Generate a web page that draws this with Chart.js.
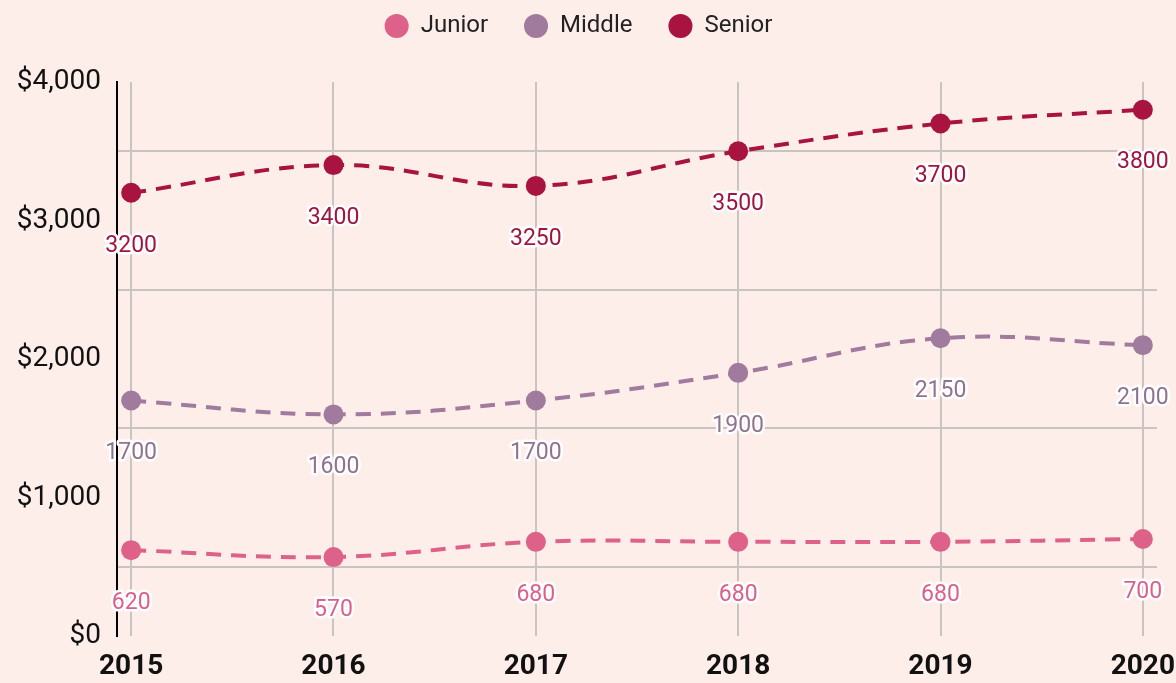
<!DOCTYPE html>
<html>
<head>
<meta charset="utf-8">
<script src="https://cdn.jsdelivr.net/npm/chart.js@4"></script>
<style>
	html, body { margin: 0; padding: 0; background: #fdeeea; }
	#chartWrap { width: 1176px; height: 683px; }
</style>
</head>
<body>
<div id="chartWrap"><canvas id="salaryChart"></canvas></div>
<script>
var yearLabels = [2015, 2016, 2017, 2018, 2019, 2020];
var juniorValues = [620, 570, 680, 680, 680, 700];
var middleValues = [1700, 1600, 1700, 1900, 2150, 2100];
var seniorValues = [3200, 3400, 3250, 3500, 3700, 3800];
var yTickValues = [0, 1000, 2000, 3000, 4000];

var _chart;

/********************************************************
 * labels under each point (white outline)
 ********************************************************/
var pointLabelPlugin = {
	id: 'pointLabel',
	afterDatasetsDraw: function(chart) {
		var ctx = chart.ctx;
		ctx.save();
		ctx.font = '23px Roboto';
		ctx.textAlign = 'center';
		ctx.textBaseline = 'middle';
		ctx.lineJoin = 'round';
		chart.data.datasets.forEach(function(ds, i) {
			var meta = chart.getDatasetMeta(i);
			meta.data.forEach(function(pt, j) {
				var txt = String(ds.data[j].y);
				ctx.lineWidth = 5;
				ctx.strokeStyle = '#ffffff';
				ctx.strokeText(txt, pt.x, pt.y + 53);
				ctx.fillStyle = ds.labelColor;
				ctx.fillText(txt, pt.x, pt.y + 53);
			});
		});
		ctx.restore();
	}
};

// legend block height (space down to the plot)
var legendSpacePlugin = {
	id: 'legendSpace',
	beforeInit: function(chart) {
		var fit = chart.legend.fit;
		chart.legend.fit = function() {
			fit.bind(chart.legend)();
			this.height = 104;
		};
	}
};

function toPoints(values) {
	return values.map(function(v, i) {
		return { x: yearLabels[i], y: v };
	});
}

function makeDataset(label, values, color, labelColor) {
	return {
		label: label,
		data: toPoints(values),
		borderColor: color,
		backgroundColor: color,
		pointBackgroundColor: color,
		pointBorderColor: color,
		labelColor: labelColor,
		borderWidth: 4,
		borderDash: [15, 10],
		pointRadius: 10,
		pointHoverRadius: 10,
		pointBorderWidth: 0,
		tension: 0.4,
		fill: false
	};
}

function getChartData() {
	return {
		datasets: [
			makeDataset('Junior', juniorValues, '#de6189', '#d9628a'),
			makeDataset('Middle', middleValues, '#a07b9e', '#8f7390'),
			makeDataset('Senior', seniorValues, '#a8143f', '#a01540')
		]
	};
}

function getChartOption() {
	return {
		type: 'line',
		data: getChartData(),
		plugins: [pointLabelPlugin, legendSpacePlugin],
		options: {
			responsive: true,
			maintainAspectRatio: false,
			animation: false,
			layout: {
				padding: { left: 0, right: 19, top: -22, bottom: 0 }
			},
			plugins: {
				legend: {
					position: 'top',
					labels: {
						usePointStyle: true,
						pointStyle: 'circle',
						boxWidth: 24,
						boxHeight: 17,
						padding: 36,
						color: '#222222',
						font: { family: 'Roboto', size: 24 }
					}
				},
				tooltip: { enabled: false }
			},
			scales: {
				x: {
					type: 'linear',
					min: 2014.93,
					max: 2020.07,
					afterFit: function(scale) {
						scale.height = 47;
						scale.paddingLeft = 0;
						scale.paddingRight = 0;
					},
					border: { display: false },
					grid: {
						color: '#c9c3c2',
						lineWidth: 2,
						drawTicks: false
					},
					ticks: {
						stepSize: 1,
						includeBounds: false,
						padding: 14,
						color: '#111111',
						font: { family: 'Roboto', size: 28, weight: 'bold' },
						callback: function(v) { return String(v); }
					}
				},
				y: {
					min: yTickValues[0],
					max: yTickValues[yTickValues.length - 1],
					afterFit: function(scale) { scale.width = 117; },
					border: { display: true, color: '#000000', width: 2 },
					grid: {
						offset: true,
						color: '#c9c3c2',
						lineWidth: 2,
						drawTicks: false
					},
					ticks: {
						stepSize: 1000,
						padding: 16,
						color: '#111111',
						font: { family: 'Roboto', size: 28 },
						callback: function(v) { return '$' + v.toLocaleString('en-US'); }
					}
				}
			}
		}
	};
}

function renderChart() {
	var ctx = document.getElementById('salaryChart');
	if (Chart.getChart('salaryChart')) {
		_chart.destroy();
	}
	_chart = new Chart(ctx, getChartOption());
}

renderChart();
</script>
</body>
</html>
